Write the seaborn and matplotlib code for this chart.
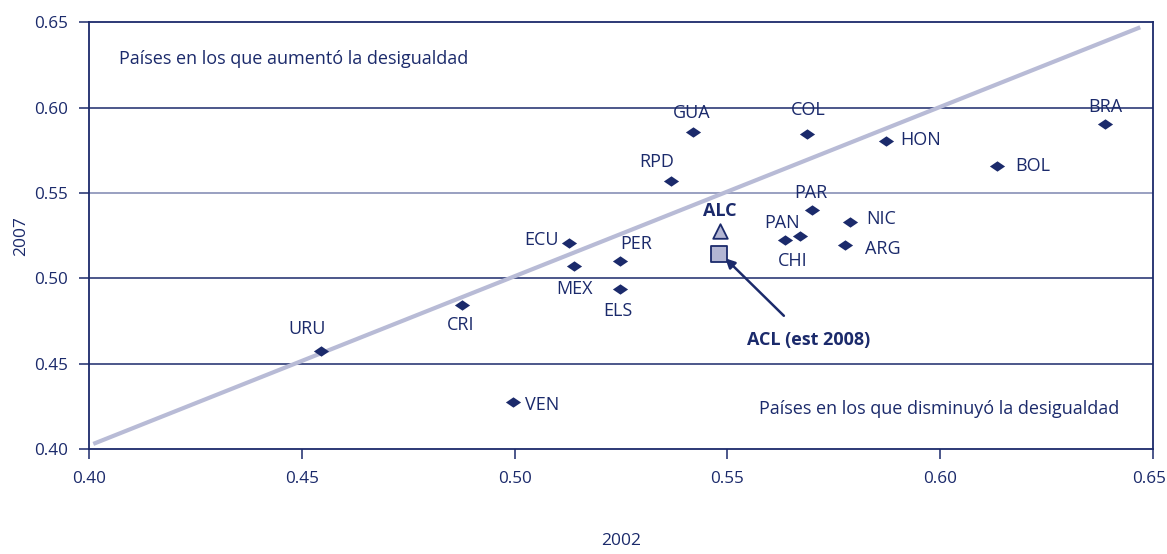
import numpy as np
import pandas as pd
import seaborn as sns
import matplotlib.pyplot as plt
import matplotlib.transforms as mtransforms

# Gini values, 2002 vs 2007
countries = ['URU', 'CRI', 'VEN', 'ECU', 'MEX', 'PER', 'ELS', 'RPD', 'GUA', 'COL',
             'PAR', 'PAN', 'CHI', 'NIC', 'ARG', 'HON', 'BOL', 'BRA']
gini_2002 = [0.4545, 0.4876, 0.4996, 0.5128, 0.5140, 0.5248, 0.5248, 0.5367, 0.5419, 0.5687,
             0.5699, 0.5635, 0.5671, 0.5788, 0.5776, 0.5873, 0.6133, 0.6387]
gini_2007 = [0.4574, 0.4843, 0.4275, 0.5206, 0.5071, 0.5101, 0.4937, 0.5569, 0.5856, 0.5844,
             0.5399, 0.5224, 0.5247, 0.5329, 0.5194, 0.5803, 0.5657, 0.5903]
alc_point = (0.5483, 0.5276)
acl_point = (0.5480, 0.5142)
diag_x = [0.401, 0.647]
diag_y = [0.403, 0.647]

# label offsets in pixels (dx, dy, ha)
label_pos = {
    'URU': (-14, 22, 'center'), 'CRI': (-1, -20, 'center'), 'VEN': (12, -3, 'left'),
    'ECU': (-10, 3, 'right'), 'MEX': (0, -23, 'center'), 'PER': (0, 17, 'left'),
    'ELS': (-2, -22, 'center'), 'RPD': (-14, 19, 'center'), 'GUA': (-1, 19, 'center'),
    'COL': (1, 24, 'center'), 'PAR': (-1, 17, 'center'), 'PAN': (-3, 17, 'center'),
    'CHI': (-8, -25, 'center'), 'NIC': (16, 3, 'left'), 'ARG': (20, -4, 'left'),
    'HON': (14, 1, 'left'), 'BOL': (18, 0, 'left'), 'BRA': (0, 17, 'center'),
}

navy = '#1b2a6b'
lilac = '#b8bbd6'
fs = 13

sns.set_style('white')
plt.rcParams['font.family'] = ['Open Sans', 'DejaVu Sans']

df = pd.DataFrame({'pais': countries, 'x': gini_2002, 'y': gini_2007})

fig = plt.figure(figsize=(11.67, 5.54), dpi=100)
ax = fig.add_axes([0.0763, 0.1895, 0.9117, 0.7705])

for yv in [0.45, 0.50, 0.55, 0.60]:
    ax.axhline(yv, color=navy if yv != 0.55 else '#7d86b0', lw=1.1, zorder=1)

ax.plot(diag_x, diag_y, color=lilac, lw=3, zorder=2, solid_capstyle='butt')

diamond = [(-1, 0), (0, 0.68), (1, 0), (0, -0.68), (-1, 0)]
sns.scatterplot(data=df, x='x', y='y', marker=diamond, s=120, color=navy,
                edgecolor=navy, linewidth=0, ax=ax, zorder=3, legend=False)

for name, xv, yv in zip(countries, gini_2002, gini_2007):
    dx, dy, ha = label_pos[name]
    ax.annotate(name, (xv, yv), xytext=(dx, dy), textcoords='offset pixels',
                ha=ha, va='center', fontsize=fs, color=navy)

ax.scatter([alc_point[0]], [alc_point[1]], marker='^', s=110, color='#b3b6d3',
           edgecolor=navy, linewidth=1.3, zorder=4)
ax.scatter([acl_point[0]], [acl_point[1]], marker='s', s=120, color='#b3b6d3',
           edgecolor=navy, linewidth=1.3, zorder=4)
ax.annotate('ALC', alc_point, xytext=(0, 20), textcoords='offset pixels',
            ha='center', va='center', fontsize=fs, fontweight='bold', color=navy)
ax.annotate('ACL (est 2008)', (acl_point[0] + 0.0015, acl_point[1] - 0.0025),
            xytext=(0.5690, 0.4640), textcoords='data', ha='center', va='center',
            fontsize=fs, fontweight='bold', color=navy,
            arrowprops=dict(arrowstyle='-|>', color=navy, lw=1.8,
                            shrinkA=12, shrinkB=0, mutation_scale=14))

ax.text(0.0285, 0.914, 'Países en los que aumentó la desigualdad', transform=ax.transAxes,
        fontsize=fs, color=navy, va='center')
ax.text(0.9686, 0.094, 'Países en los que disminuyó la desigualdad', transform=ax.transAxes,
        fontsize=fs, color=navy, va='center', ha='right')

ticks = np.arange(0.40, 0.651, 0.05)
ax.set_xlim(0.40, 0.65)
ax.set_ylim(0.40, 0.65)
ax.set_xticks(ticks)
ax.set_yticks(ticks)
ax.set_xticklabels([f'{v:.2f}' for v in ticks])
ax.set_yticklabels([f'{v:.2f}' for v in ticks])
ax.tick_params(axis='both', direction='out', length=7, width=1.1, color=navy,
               labelcolor=navy, labelsize=12.3, bottom=True, left=True, pad=8)
ax.tick_params(axis='x', pad=9)
for sp in ax.spines.values():
    sp.set_color(navy)
    sp.set_linewidth(1.3)

# nudge the last x tick label so it stays inside the figure
last = ax.get_xticklabels()[-1]
last.set_transform(last.get_transform() +
                   mtransforms.ScaledTranslation(-4 / 100, 0, fig.dpi_scale_trans))

ax.set_xlabel('2002', fontsize=12.5, color=navy, labelpad=33)
ax.set_ylabel('2007', fontsize=12.5, color=navy, labelpad=4)

fig.savefig('out.png', dpi=100)
